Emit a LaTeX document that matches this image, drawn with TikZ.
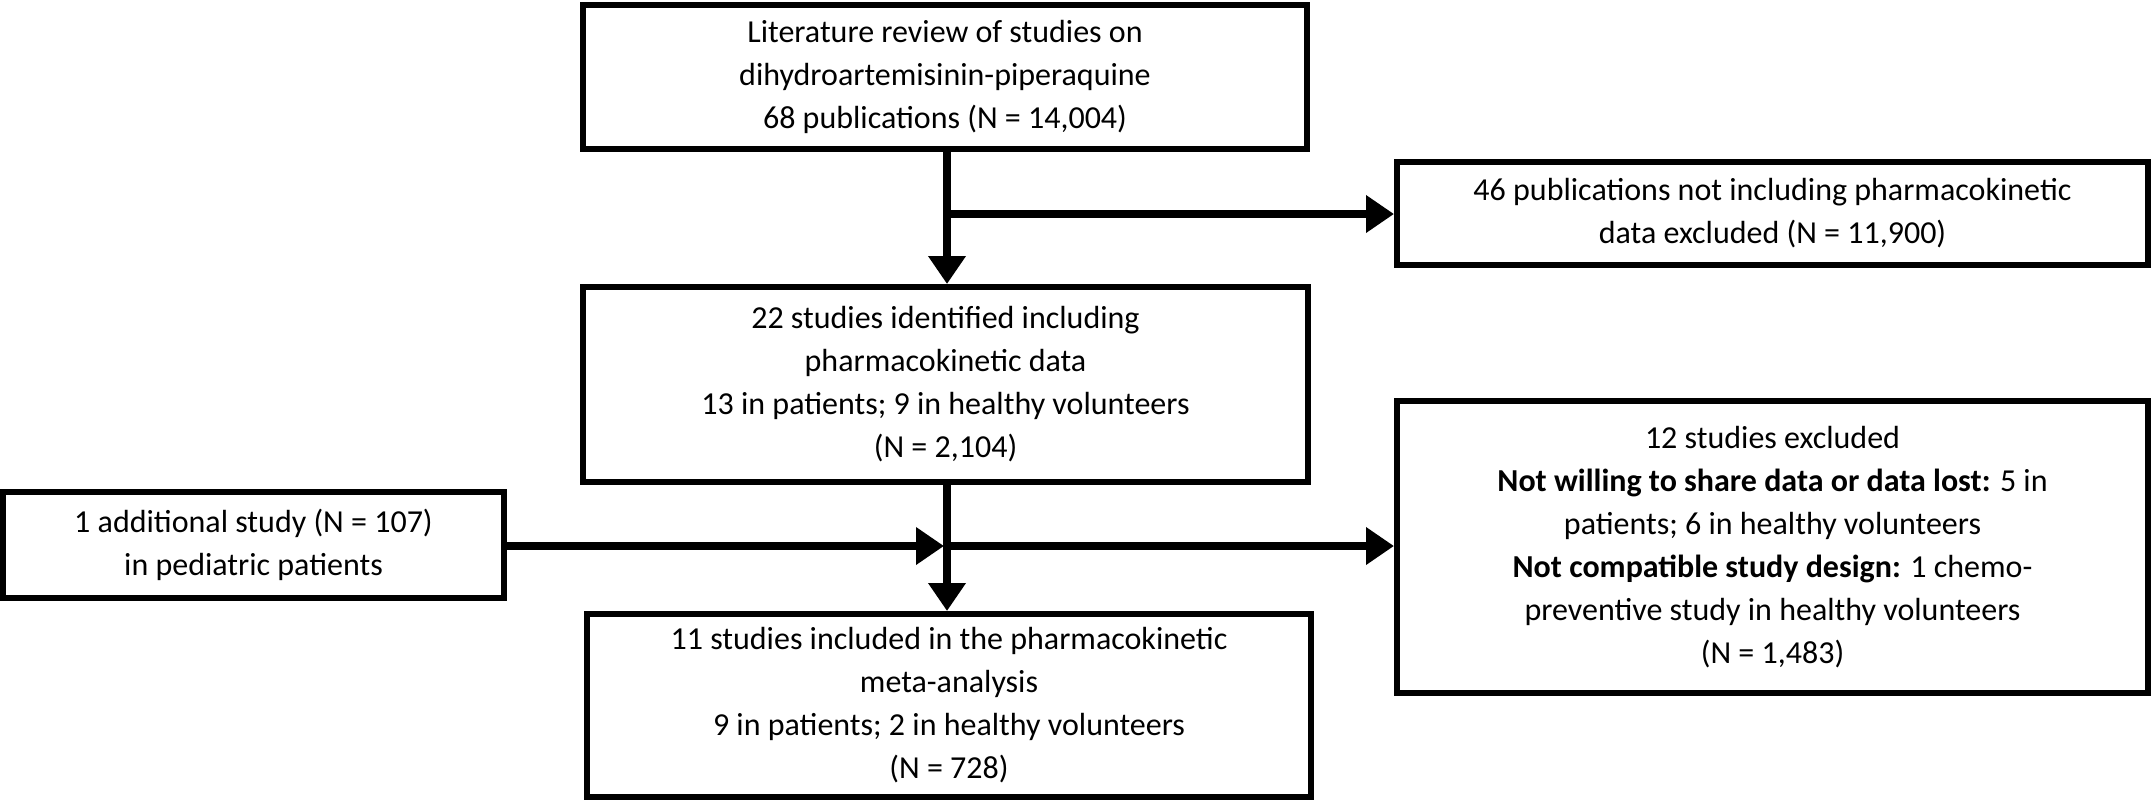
\documentclass[tikz,border=0pt]{standalone}
\usepackage{fontspec}
\setmainfont{Carlito}
\usetikzlibrary{arrows.meta}
\begin{document}
\begin{tikzpicture}[x=0.5pt,y=-0.5pt,
  box/.style={draw,line width=3pt,align=center,inner sep=0pt,font=\fontsize{16}{21.5}\selectfont},
  arr/.style={line width=4pt,-{Triangle[length=14pt,width=18pt]}},
  ln/.style={line width=4pt}]
\useasboundingbox (0,0) rectangle (2152,800);
\node[box,minimum width=724*0.5pt,minimum height=144*0.5pt] (b1) at (945,77) {Literature review of studies on\\dihydroartemisinin-piperaquine\\68 publications (N = 14,004)};
\node[box,minimum width=751*0.5pt,minimum height=103*0.5pt] (b2) at (1772.5,213.5) {46 publications not including pharmacokinetic\\data excluded (N = 11,900)};
\node[box,minimum width=725*0.5pt,minimum height=195*0.5pt] (b3) at (945.5,384.5) {22 studies identified including\\pharmacokinetic data\\13 in patients; 9 in healthy volunteers\\(N = 2,104)};
\node[box,minimum width=501*0.5pt,minimum height=106*0.5pt] (b4) at (253.5,545) {1 additional study (N = 107)\\in pediatric patients};
\node[box,minimum width=751*0.5pt,minimum height=292*0.5pt] (b5) at (1772.5,547) {12 studies excluded\\\textbf{Not willing to share data or data lost:} 5 in\\patients; 6 in healthy volunteers\\\textbf{Not compatible study design:} 1 chemo-\\preventive study in healthy volunteers\\(N = 1,483)};
\node[box,minimum width=724*0.5pt,minimum height=183*0.5pt] (b6) at (949,705.5) {11 studies included in the pharmacokinetic\\meta-analysis\\9 in patients; 2 in healthy volunteers\\(N = 728)};
\coordinate (j1) at (947,214);
\coordinate (j2) at (947,546);
\draw[arr] (b1.south -| j1) -- (b3.north -| j1);
\draw[arr] (j1) -- (b2.west |- j1);
\draw[arr] (b3.south -| j2) -- (b6.north -| j2);
\draw[arr] (b4.east |- j2) -- ([xshift=-1.5pt]j2);
\draw[arr] (j2) -- (b5.west |- j2);
\end{tikzpicture}
\end{document}
